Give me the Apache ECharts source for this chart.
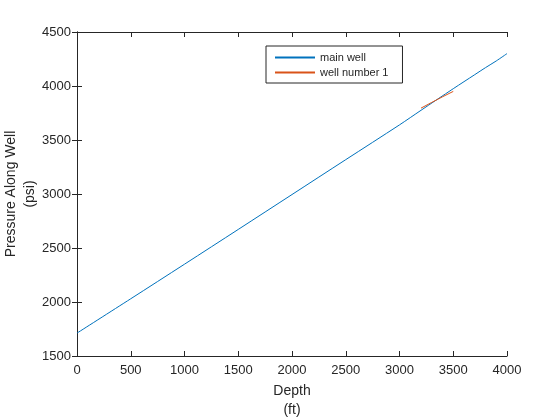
<!DOCTYPE html>
<html><head><meta charset="utf-8">
<script src="https://cdn.jsdelivr.net/npm/echarts@6/dist/echarts.min.js"></script>
<style>html,body{margin:0;padding:0;background:#fff}#c{width:560px;height:420px}</style>
</head><body><div id="c"></div>
<script>
const depthMain = [0, 500, 1000, 1500, 2000, 2500, 3000, 3200, 3500, 3700, 3800, 3900, 4000];
const pressureMain = [1712, 2030, 2350, 2672, 2995, 3318, 3640, 3775, 3975, 4105, 4170, 4232, 4300];
const depthW1 = [3200, 3300, 3400, 3500];
const pressureW1 = [3795, 3848, 3900, 3950];
const xTicks = [0, 500, 1000, 1500, 2000, 2500, 3000, 3500, 4000];
const yTicks = [1500, 2000, 2500, 3000, 3500, 4000, 4500];

const axisCol = '#262626';
const font = 'Liberation Sans, Arial, sans-serif';
const chart = echarts.init(document.getElementById('c'));
const mk = (xs, ys) => xs.map((x, i) => [x, ys[i]]);
const axBase = {
  type: 'value',
  nameMoveOverlap: false,
  axisLine: {show: true, lineStyle: {color: axisCol, width: 1}},
  axisTick: {show: true, inside: true, length: 5, lineStyle: {color: axisCol}},
  splitLine: {show: false},
  axisLabel: {color: axisCol, fontFamily: font, fontSize: 13, formatter: v => String(v)}
};
chart.setOption({
  animation: false,
  backgroundColor: '#fff',
  color: ['#0072BD', '#D95319'],
  grid: {left: 77, right: 53, top: 32, bottom: 64, containLabel: false, outerBoundsMode: 'none'},
  legend: {
    left: 266, top: 46, orient: 'vertical',
    backgroundColor: '#fff', borderColor: axisCol, borderWidth: 1,
    padding: [6, 14, 5, 9], itemGap: 4, itemWidth: 40, itemHeight: 2,
    icon: 'rect',
    textStyle: {color: axisCol, fontFamily: font, fontSize: 11},
    data: ['main well', 'well number 1']
  },
  xAxis: [
    Object.assign({}, axBase, {min: 0, max: 4000, interval: 500, position: 'bottom',
      name: 'Depth\n(ft)', nameLocation: 'middle', nameGap: 26,
      nameTextStyle: {color: axisCol, fontFamily: font, fontSize: 14, lineHeight: 19}}),
    Object.assign({}, axBase, {min: 0, max: 4000, interval: 500, position: 'top',
      axisLabel: {show: false}})
  ],
  yAxis: [
    Object.assign({}, axBase, {min: 1500, max: 4500, interval: 500, position: 'left',
      axisLabel: Object.assign({}, axBase.axisLabel, {margin: 6}),
      name: 'Pressure Along Well\n(psi)', nameLocation: 'middle', nameGap: 37,
      nameTextStyle: {color: axisCol, fontFamily: font, fontSize: 14, lineHeight: 19}}),
    Object.assign({}, axBase, {min: 1500, max: 4500, interval: 500, position: 'right',
      axisLabel: {show: false}})
  ],
  series: [
    {name: 'main well', type: 'line', data: mk(depthMain, pressureMain), symbol: 'none',
     smooth: 0.3, lineStyle: {color: '#0072BD', width: 1}, itemStyle: {color: '#0072BD'}},
    {name: 'well number 1', type: 'line', data: mk(depthW1, pressureW1), symbol: 'none',
     lineStyle: {color: '#D95319', width: 1}, itemStyle: {color: '#D95319'}}
  ]
});
</script></body></html>
